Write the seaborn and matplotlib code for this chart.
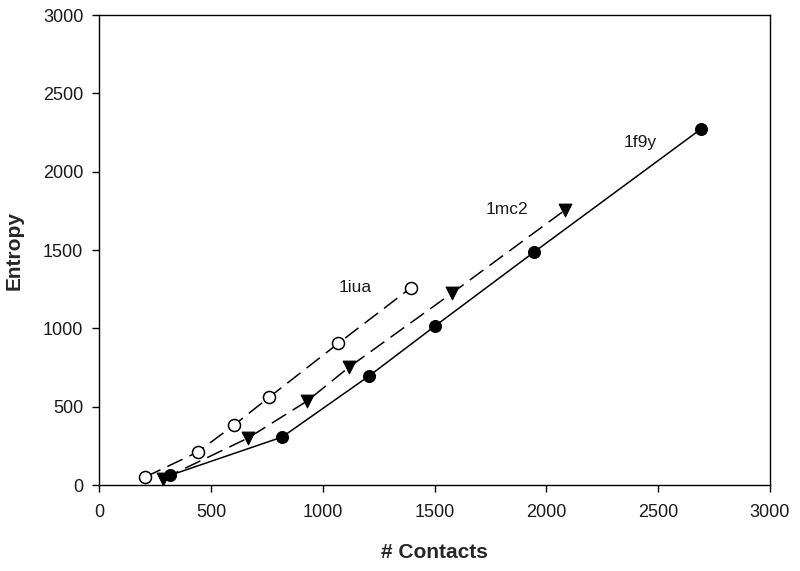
import numpy as np
import pandas as pd
import matplotlib
matplotlib.use('Agg')
import matplotlib.pyplot as plt
import seaborn as sns

# data
iua_x = [206, 440, 605, 760, 1070, 1395]
iua_y = [51, 210, 385, 560, 905, 1260]
mc2_x = [286, 666, 930, 1118, 1578, 2085]
mc2_y = [40, 300, 536, 753, 1225, 1757]
f9y_x = [317, 818, 1207, 1502, 1945, 2691]
f9y_y = [62, 306, 696, 1015, 1487, 2272]

series_names = ['1iua', '1mc2', '1f9y']
label_pos = {'1iua': (1144, 1263), '1mc2': (1824, 1761), '1f9y': (2418, 2189)}

sns.set_style('ticks')
plt.rcParams['font.family'] = ['Liberation Sans', 'DejaVu Sans']

fig = plt.figure(figsize=(8, 5.71), dpi=100)
ax = fig.add_axes([0.124, 0.1506, 0.8385, 0.8231])

df_iua = pd.DataFrame({'x': iua_x, 'y': iua_y})
df_mc2 = pd.DataFrame({'x': mc2_x, 'y': mc2_y})
df_f9y = pd.DataFrame({'x': f9y_x, 'y': f9y_y})

sns.lineplot(data=df_iua, x='x', y='y', ax=ax, color='black', lw=1.1,
             linestyle=(0, (11, 5)), sort=False)
sns.lineplot(data=df_mc2, x='x', y='y', ax=ax, color='black', lw=1.1,
             linestyle=(0, (11, 5)), sort=False)
sns.lineplot(data=df_f9y, x='x', y='y', ax=ax, color='black', lw=1.1, sort=False)

sns.scatterplot(data=df_iua, x='x', y='y', ax=ax, marker='o', s=75,
                facecolor='white', edgecolor='black', linewidth=1.1, zorder=3)
sns.scatterplot(data=df_mc2, x='x', y='y', ax=ax, marker='v', s=85,
                color='black', edgecolor='black', zorder=3)
sns.scatterplot(data=df_f9y, x='x', y='y', ax=ax, marker='o', s=75,
                color='black', edgecolor='black', zorder=3)

for name in series_names:
    tx, ty = label_pos[name]
    ax.text(tx, ty, name, fontsize=12.5, ha='center', va='center', color='#1a1a1a')

ax.set_xlim(0, 3000)
ax.set_ylim(0, 3000)
ax.set_xticks(np.arange(0, 3001, 500))
ax.set_yticks(np.arange(0, 3001, 500))
ax.tick_params(direction='out', length=5, width=1, labelsize=13,
               colors='black', labelcolor='#1a1a1a')
ax.tick_params(axis='x', pad=8.5)
ax.tick_params(axis='y', pad=6.5)
for sp in ax.spines.values():
    sp.set_color('black')
    sp.set_linewidth(1)

ax.set_xlabel('# Contacts', fontsize=15, fontweight='bold')
ax.set_ylabel('Entropy', fontsize=15, fontweight='bold')
ax.xaxis.set_label_coords(0.5, -0.1234)
ax.yaxis.set_label_coords(-0.112, 0.5)

fig.savefig('out.png', dpi=100)
